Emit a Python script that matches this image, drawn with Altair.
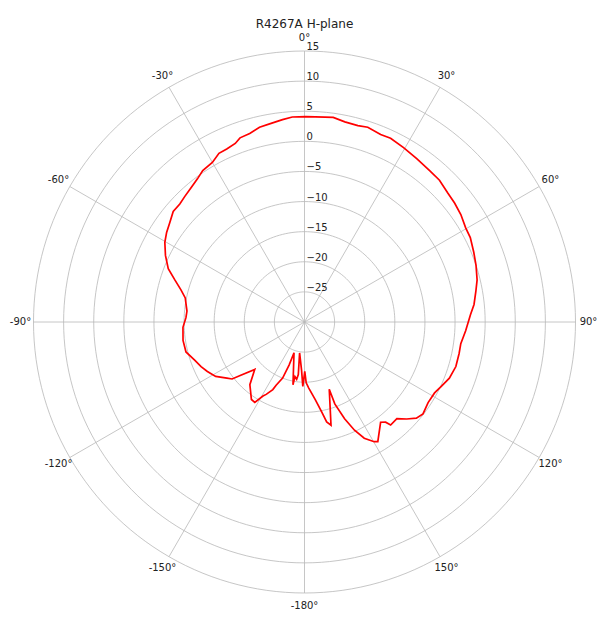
import altair as alt
import pandas as pd
import numpy as np

title_text = "R4267A H-plane"

# Measured pattern: angle (deg, clockwise from top) and gain (dB), in trace order
angles = [0.3, 5.7, 8.0, 11.4, 15.2, 18.0, 22.1, 25.1, 29.6, 34.5, 39.6, 43.6, 48.1, 51.6,
          55.5, 59.7, 63.0, 67.6, 71.7, 76.3, 79.9, 84.1, 87.4, 93.1, 97.9, 101.5, 106.4,
          111.2, 115.2, 118.6, 123.1, 127.8, 130.7, 133.5, 136.3, 140.1, 141.0, 142.8, 148.5,
          149.8, 152.8, 155.2, 157.5, 159.7, 159.8, 165.6, 167.5, 169.1, 172.1, 176.3, 178.4,
          179.7, 181.5, 183.5, 189.0, 186.7, 187.8, 189.9, 190.4, 198.8, 199.7, 201.3, 204.2,
          205.1, 207.9, 209.3, 211.7, 214.4, 221.1, 226.4, 230.2, 231.8, 234.1, 238.5, 243.0,
          246.7, 250.9, 255.8, 261.4, 267.5, 272.1, 275.3, 277.6, 281.4, 284.6, 287.9, 291.4,
          295.6, 299.7, 303.0, 306.4, 310.1, 313.4, 316.3, 319.9, 323.3, 326.1, 330.0, 333.1,
          335.8, 338.8, 340.7, 343.8, 347.0, 350.0, 353.8, 356.6, 360.3]
gains = [4.1, 4.2, 4.3, 3.9, 3.8, 4.0, 3.6, 3.7, 3.3, 2.9, 2.6, 2.5, 2.0, 1.8,
         1.5, 1.0, 0.9, 0.4, 0.0, -0.5, -1.1, -1.7, -2.4, -3.2, -3.8, -3.8, -3.8,
         -4.2, -4.9, -5.4, -5.5, -5.1, -5.5, -6.6, -7.8, -7.7, -8.6, -9.1, -6.7,
         -7.0, -8.3, -10.2, -12.6, -15.5, -18.1, -12.3, -13.0, -14.7, -17.0, -19.0, -19.9,
         -21.8, -19.3, -22.0, -24.8, -21.2, -20.4, -20.8, -19.4, -24.6, -22.4, -20.0, -18.5,
         -17.6, -16.4, -15.9, -14.3, -14.4, -16.2, -18.6, -16.1, -14.7, -14.1, -12.7, -11.9,
         -11.3, -10.7, -9.7, -9.6, -9.8, -10.3, -10.4, -10.2, -9.8, -8.8, -7.4, -5.7,
         -4.4, -3.3, -2.7, -2.2, -1.5, -1.5, -1.2, -0.8, -0.3, 0.3, 0.6, 1.4,
         1.5, 1.8, 2.4, 2.6, 3.2, 3.4, 3.8, 4.1, 4.1]

r_min = -30
r_max = 15
ring_levels = [-25, -20, -15, -10, -5, 0, 5, 10, 15]
ring_labels = ["\u221225", "\u221220", "\u221215", "\u221210", "\u22125", "0", "5", "10", "15"]
spoke_angles = [0, 30, 60, 90, 120, 150, 180, 210, 240, 270, 300, 330]
spoke_labels = ["0°", "30°", "60°", "90°", "120°", "150°", "-180°", "-150°", "-120°", "-90°", "-60°", "-30°"]

R = r_max - r_min
FONT = "DejaVu Sans"
SIZE = 542

xs = alt.Scale(domain=[-R, R], nice=False, zero=False)
ys = alt.Scale(domain=[-R, R], nice=False, zero=False)

# trace
trace_df = pd.DataFrame({"idx": range(len(angles)), "angle": angles, "gain": gains})
trace = alt.Chart(trace_df).transform_calculate(
    rr=f"max(datum.gain - ({r_min}), 0)"
).transform_calculate(
    px="datum.rr * sin(datum.angle * PI / 180)",
    py="datum.rr * cos(datum.angle * PI / 180)",
).mark_line(color="#ff0000", strokeWidth=1.7).encode(
    x=alt.X("px:Q", scale=xs, axis=None),
    y=alt.Y("py:Q", scale=ys, axis=None),
    order="idx:Q",
)

# rings (grid)
ring_rows = []
for lv in ring_levels:
    for a in np.arange(0, 361, 2):
        ring_rows.append({"level": lv, "a": float(a)})
ring_df = pd.DataFrame(ring_rows)
rings = alt.Chart(ring_df).transform_calculate(
    px=f"(datum.level - ({r_min})) * sin(datum.a * PI / 180)",
    py=f"(datum.level - ({r_min})) * cos(datum.a * PI / 180)",
).mark_line(color="#b8b8b8", strokeWidth=0.8).encode(
    x=alt.X("px:Q", scale=xs, axis=None),
    y=alt.Y("py:Q", scale=ys, axis=None),
    detail="level:N",
    order="a:Q",
)

# spokes
spoke_df = pd.DataFrame({"a": spoke_angles, "lab": spoke_labels})
spokes = alt.Chart(spoke_df).transform_calculate(
    x0="0", y0="0",
    x1=f"{R} * sin(datum.a * PI / 180)",
    y1=f"{R} * cos(datum.a * PI / 180)",
).mark_rule(color="#b8b8b8", strokeWidth=0.8).encode(
    x=alt.X("x0:Q", scale=xs, axis=None),
    y=alt.Y("y0:Q", scale=ys, axis=None),
    x2="x1:Q",
    y2="y1:Q",
)

# angle labels
ang_text = alt.Chart(spoke_df).transform_calculate(
    lx=f"{R * 1.048} * sin(datum.a * PI / 180)",
    ly=f"{R * 1.048} * cos(datum.a * PI / 180)",
).mark_text(font=FONT, fontSize=10, color="#222222", align="center", baseline="middle").encode(
    x=alt.X("lx:Q", scale=xs, axis=None),
    y=alt.Y("ly:Q", scale=ys, axis=None),
    text="lab:N",
)

# radial labels
rad_df = pd.DataFrame({"level": ring_levels, "lab": ring_labels})
rad_text = alt.Chart(rad_df).transform_calculate(
    lx="0",
    ly=f"datum.level - ({r_min})",
).mark_text(font=FONT, fontSize=10, color="#222222", align="left", baseline="bottom", dx=2, dy=1).encode(
    x=alt.X("lx:Q", scale=xs, axis=None),
    y=alt.Y("ly:Q", scale=ys, axis=None),
    text="lab:N",
)

chart = alt.layer(rings, spokes, trace, ang_text, rad_text).properties(
    width=SIZE,
    height=SIZE,
    title=alt.TitleParams(title_text, font=FONT, fontSize=12, fontWeight="normal",
                          color="#222222", anchor="middle", frame="group", offset=2),
    autosize=alt.AutoSizeParams(type="none"),
    padding={"left": 25.5, "top": 43, "right": 22.5, "bottom": 17},
).configure_view(stroke=None)

chart.save("out.html", embed_options={"renderer": "svg", "actions": False})
